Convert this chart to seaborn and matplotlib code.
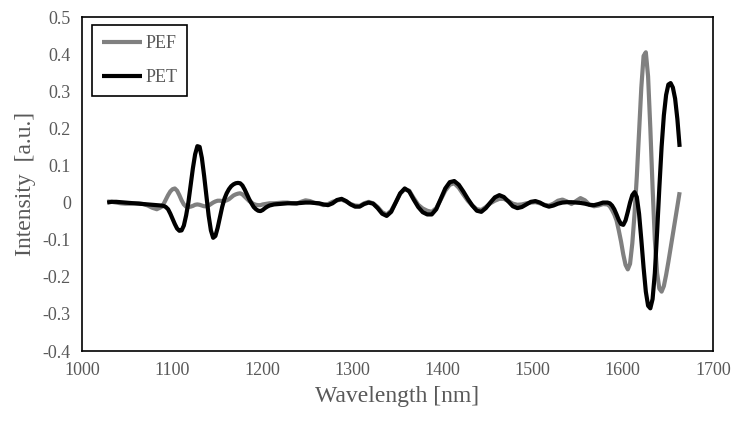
import numpy as np
import pandas as pd
import matplotlib
matplotlib.use("Agg")
import matplotlib.pyplot as plt
import seaborn as sns

# sampling grid of the spectra (nm): coarser in flat parts, finer where the bands are sharp
wavelength = np.concatenate([
    np.arange(1028, 1089, 5),
    np.arange(1090.5, 1206, 2.5),
    np.arange(1208, 1584, 5),
    np.arange(1585.5, 1664, 2.5),
])

# PEF spectrum (grey curve)
pef = [
    # 1028-1088
    0.003, 0.002, 0.000, -0.002, -0.003, -0.003, -0.002, -0.002, -0.004, -0.008,
    -0.014, -0.018, -0.012,
    # 1090.5-1205.5
    -0.004, 0.008, 0.020, 0.030, 0.036, 0.038, 0.032, 0.020, 0.006, -0.005,
    -0.011, -0.012, -0.011, -0.009, -0.006, -0.005, -0.006, -0.008, -0.010, -0.010,
    -0.008, -0.004, 0.000, 0.003, 0.005, 0.005, 0.004, 0.004, 0.006, 0.009,
    0.014, 0.019, 0.022, 0.024, 0.025, 0.022, 0.016, 0.010, 0.004, 0.000,
    -0.004, -0.006, -0.007, -0.007, -0.005, -0.004, -0.003,
    # 1208-1583
    -0.002, -0.002, -0.001, 0.000,
    0.000, -0.002, -0.003, 0.002, 0.006, 0.004, -0.001, -0.003, -0.007, -0.004,
    0.002, 0.006, 0.008, 0.003, -0.004, -0.008, -0.009, -0.002, 0.002, -0.002,
    -0.012, -0.026, -0.032, -0.022, 0.000, 0.024, 0.036, 0.032, 0.012, -0.006,
    -0.016, -0.022, -0.025, -0.015, 0.008, 0.032, 0.048, 0.052, 0.040, 0.022,
    0.005, -0.008, -0.018, -0.020, -0.012, -0.002, 0.005, 0.010, 0.010, 0.004,
    -0.003, -0.006, -0.005, -0.002, 0.000, 0.001, -0.002, -0.006, -0.008, -0.003,
    0.005, 0.008, 0.003, -0.004, 0.004, 0.012, 0.006, -0.006, -0.010, -0.008,
    -0.004, -0.005,
    # 1585.5-1663
    -0.010, -0.020, -0.032, -0.048, -0.075, -0.105, -0.140, -0.168, -0.180, -0.165,
    -0.110, -0.030, 0.070, 0.190, 0.310, 0.395, 0.405, 0.340, 0.200, 0.040,
    -0.100, -0.190, -0.232, -0.240, -0.225, -0.195, -0.160, -0.122, -0.085, -0.048,
    -0.010, 0.028,
]

# PET spectrum (black curve)
pet = [
    # 1028-1088
    0.000, 0.002, 0.002, 0.001, 0.000, -0.001, -0.002, -0.003, -0.004, -0.005,
    -0.006, -0.007, -0.008,
    # 1090.5-1205.5
    -0.009, -0.012, -0.018, -0.030, -0.044, -0.058, -0.070, -0.076, -0.075, -0.062,
    -0.035, 0.000, 0.045, 0.092, 0.130, 0.152, 0.150, 0.120, 0.072, 0.018,
    -0.035, -0.075, -0.095, -0.090, -0.068, -0.040, -0.012, 0.010, 0.025, 0.036,
    0.044, 0.049, 0.052, 0.053, 0.052, 0.046, 0.035, 0.022, 0.009, -0.002,
    -0.012, -0.018, -0.022, -0.023, -0.020, -0.015, -0.011,
    # 1208-1583
    -0.008, -0.005, -0.004, -0.003,
    -0.002, -0.002, -0.002, -0.001, 0.000, 0.000, -0.001, -0.002, -0.005, -0.007,
    -0.002, 0.007, 0.010, 0.004, -0.005, -0.011, -0.011, -0.004, 0.000, -0.003,
    -0.015, -0.030, -0.036, -0.025, 0.000, 0.025, 0.038, 0.030, 0.008, -0.012,
    -0.026, -0.032, -0.032, -0.018, 0.010, 0.038, 0.055, 0.058, 0.048, 0.030,
    0.010, -0.008, -0.022, -0.025, -0.015, 0.000, 0.014, 0.020, 0.015, 0.003,
    -0.010, -0.015, -0.012, -0.005, 0.002, 0.004, 0.000, -0.007, -0.011, -0.008,
    -0.003, 0.000, 0.001, 0.001, 0.000, -0.001, -0.003, -0.006, -0.007, -0.004,
    0.000, 0.000,
    # 1585.5-1663
    -0.002, -0.008, -0.018, -0.032, -0.047, -0.058, -0.060, -0.048, -0.025, 0.000,
    0.020, 0.028, 0.015, -0.030, -0.100, -0.175, -0.240, -0.278, -0.285, -0.260,
    -0.190, -0.080, 0.040, 0.150, 0.235, 0.290, 0.318, 0.322, 0.310, 0.280,
    0.225, 0.150,
]

x_ticks = [1000, 1100, 1200, 1300, 1400, 1500, 1600, 1700]
y_ticks = [-0.4, -0.3, -0.2, -0.1, 0.0, 0.1, 0.2, 0.3, 0.4, 0.5]
y_tick_labels = ["-0.4", "-0.3", "-0.2", "-0.1", "0", "0.1", "0.2", "0.3", "0.4", "0.5"]

df = pd.DataFrame({
    "Wavelength": np.concatenate([wavelength, wavelength]),
    "Intensity": pef + pet,
    "Sample": ["PEF"] * len(pef) + ["PET"] * len(pet),
})

sns.set_style("white")
plt.rcParams["font.family"] = ["Liberation Serif", "DejaVu Serif"]

fig = plt.figure(figsize=(7.38, 4.32), dpi=100)
ax = fig.add_axes([0.1111, 0.1875, 0.855, 0.7731])

sns.lineplot(data=df, x="Wavelength", y="Intensity", hue="Sample",
             palette={"PEF": "#808080", "PET": "#000000"},
             linewidth=3.0, ax=ax, sort=False,
             solid_joinstyle="round", solid_capstyle="butt")

ax.set_xlim(1000, 1700)
ax.set_ylim(-0.4, 0.5)
ax.set_xticks(x_ticks)
ax.set_yticks(y_ticks)
ax.set_yticklabels(y_tick_labels)
ax.tick_params(length=0, labelsize=13, colors="#595959", pad=8)

for s in ax.spines.values():
    s.set_color("black")
    s.set_linewidth(1.2)

ax.set_xlabel("Wavelength [nm]", fontsize=17, color="#595959", labelpad=5)
ax.set_ylabel("Intensity  [a.u.]", fontsize=17, color="#595959", labelpad=5)

leg = ax.legend(loc="upper left", bbox_to_anchor=(0.016, 0.976), borderaxespad=0,
                fancybox=False, edgecolor="black", framealpha=1,
                fontsize=13, handlelength=2.2, handletextpad=0.2,
                labelspacing=0.95, borderpad=0.55)
leg.get_frame().set_linewidth(1.2)
for t in leg.get_texts():
    t.set_color("#595959")

fig.savefig("out.png", dpi=100)
